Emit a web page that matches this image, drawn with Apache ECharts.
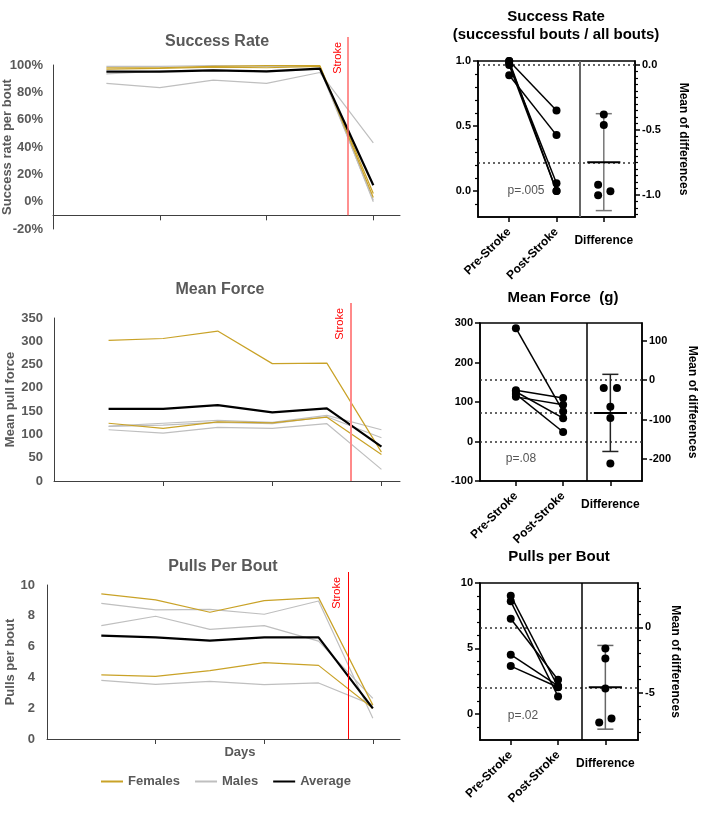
<!DOCTYPE html>
<html><head><meta charset="utf-8">
<script src="https://cdn.jsdelivr.net/npm/echarts@6/dist/echarts.min.js"></script>
<style>html,body{margin:0;padding:0;background:#fff}#c{width:701px;height:815px}</style>
</head><body><div id="c"></div>
<script>
// ---------- DATA ----------
const days = [1, 2, 3, 4, 5, 6];
// Success rate per bout (%)
const srFemaleA = [98, 98, 99, 99.5, 99.5, 6];
const srFemaleB = [97, 97.5, 98.5, 98, 99, 3];
const srMaleA = [86.6, 83.4, 89, 86.6, 94.5, 43];
const srMaleB = [99, 99, 99.5, 99, 99, 0];
const srMaleC = [93.5, 95.5, 96.5, 95, 97, 1];
const srAverage = [95.1, 95.1, 96.1, 95.4, 97.3, 12];
// Mean pull force
const mfFemaleA = [302, 306, 322, 252, 253, 62];
const mfFemaleB = [124, 113, 127, 125, 137, 57];
const mfMaleA = [118, 124, 130, 126, 141, 110];
const mfMaleB = [110, 103, 115, 113, 123, 25];
const mfMaleC = [117, 120, 126, 123, 138, 93];
const mfAverage = [155, 155, 163, 147.5, 156, 74];
// Pulls per bout
const ppFemaleA = [9.42, 9.03, 8.23, 8.98, 9.18, 2.2];
const ppFemaleB = [4.16, 4.07, 4.44, 4.96, 4.78, 2.0];
const ppMaleA = [8.81, 8.38, 8.42, 8.1, 8.96, 1.34];
const ppMaleB = [7.36, 7.97, 7.12, 7.36, 6.36, 2.64];
const ppMaleC = [3.81, 3.55, 3.74, 3.53, 3.64, 2.2];
const ppAverage = [6.71, 6.6, 6.39, 6.6, 6.6, 1.99];
// day (between day 5 and 6) where the stroke happened, per chart
const strokeDay = [5.53, 5.44, 5.54];

// Paired estimation plots
const pairCats = ['Pre-Stroke', 'Post-Stroke', 'Difference'];
const srPre = [1.0, 0.89, 0.98, 0.97, 1.0];
const srPost = [0.62, 0.43, 0.06, 0.0, 0.0];
const srDiffX = [3, 3, 2.88, 3.14, 2.88];
const mfPre = [287, 130, 113, 126, 120];
const mfPost = [76, 110, 93, 59, 24];
const mfDiffX = [3, 2.86, 3.14, 3, 3];
const ppPre = [9.03, 8.6, 7.27, 4.52, 3.65];
const ppPost = [2.05, 1.33, 2.6, 2.13, 2.03];
const ppDiffX = [3.13, 2.87, 3, 3, 3];
const pValues = ['p=.005', 'p=.08', 'p=.02'];

// ---------- BUILD ----------
const FONT = "'Liberation Sans', Arial, Helvetica, sans-serif";
const GOLD = '#C9A227';
const GRAY = '#BFBFBF';
const AX = '#595959';
const grids = [], xAxes = [], yAxes = [], series = [], graphics = [];

function addText(text, x, y, o) {
  graphics.push({type: 'text', x: x, y: y, silent: true, z: 100,
    style: Object.assign({text: text, align: 'center', verticalAlign: 'middle',
      fontFamily: FONT, fontSize: 12, fontWeight: 'normal', fill: '#000'}, o)});
}
const mean = a => a.reduce((s, v) => s + v, 0) / a.length;
function ci95(a) {
  const m = mean(a);
  const sd = Math.sqrt(a.reduce((s, v) => s + (v - m) * (v - m), 0) / (a.length - 1));
  return 2.776 * sd / Math.sqrt(a.length); // t(0.975, df=4)
}
function steps(a, b, st, skip) {
  const out = [];
  for (let k = Math.ceil(a / st - 1e-9); k * st <= b + 1e-9; k++) {
    const v = +(k * st).toFixed(6);
    if (!skip.some(s => Math.abs(s - v) < 1e-9)) out.push(v);
  }
  return out;
}

function leftChart(c) {
  const gi = grids.length;
  grids.push({left: c.left, top: c.top, width: c.width, height: c.height, outerBoundsMode: 'none'});
  const yi = yAxes.length;
  yAxes.push({gridIndex: gi, type: 'value', min: c.yMin, max: c.yMax, interval: c.yInterval,
    axisLine: {show: true, onZero: false, lineStyle: {color: '#404040', width: 1}},
    axisTick: {show: false}, splitLine: {show: false},
    axisLabel: {color: AX, fontFamily: FONT, fontWeight: 'bold', fontSize: 13, margin: c.labelMargin, formatter: c.fmt},
    name: c.yName, nameLocation: 'middle', nameGap: c.nameGap, nameMoveOverlap: false,
    nameTextStyle: {color: AX, fontFamily: FONT, fontWeight: 'bold', fontSize: 13}});
  let cross = null;
  if (c.xCrossAt != null) {
    cross = yAxes.length;
    yAxes.push({gridIndex: gi, type: 'value', show: false, min: c.yMin - c.xCrossAt, max: c.yMax - c.xCrossAt});
  }
  const xi = xAxes.length;
  const axisLine = {show: true, onZero: cross != null, lineStyle: {color: '#404040', width: 1}};
  if (cross != null) axisLine.onZeroAxisIndex = cross;
  xAxes.push({gridIndex: gi, type: 'value', min: 0, max: c.xMax, axisLine: axisLine,
    axisTick: {show: true, customValues: [2, 4, 6], length: 5, lineStyle: {color: '#404040'}},
    axisLabel: {show: false}, splitLine: {show: false}});
  c.lines.forEach(l => series.push({type: 'line', name: l.name, xAxisIndex: xi, yAxisIndex: yi,
    data: days.map((d, i) => [d, l.values[i]]), symbol: 'none', showSymbol: false,
    lineStyle: {color: l.color, width: l.width}, itemStyle: {color: l.color}, z: l.z,
    silent: true, animation: false}));
  // overlay for the stroke marker line (reaches above plot area)
  const crossVal = c.xCrossAt != null ? c.xCrossAt : c.yMin;
  const bottom = c.top + c.height * (c.yMax - crossVal) / (c.yMax - c.yMin);
  const hg = grids.length;
  grids.push({left: c.left, top: c.strokeTop, width: c.width, height: bottom - c.strokeTop, outerBoundsMode: 'none'});
  const hx = xAxes.length;
  xAxes.push({gridIndex: hg, type: 'value', min: 0, max: c.xMax, show: false});
  const hy = yAxes.length;
  yAxes.push({gridIndex: hg, type: 'value', min: 0, max: 1, show: false});
  series.push({type: 'line', xAxisIndex: hx, yAxisIndex: hy, data: [], silent: true, animation: false,
    markLine: {silent: true, animation: false, symbol: ['none', 'none'],
      lineStyle: {color: c.strokeColor, width: c.strokeWidth, type: 'solid'},
      label: {show: true, formatter: 'Stroke', position: 'insideEndTop', color: '#FF0000',
        fontFamily: FONT, fontSize: 11},
      emphasis: {disabled: true},
      data: [{xAxis: c.stroke}]}});
}

function rightPanel(c) {
  const gi = grids.length;
  grids.push({left: c.left, top: c.top, width: c.width, height: c.height, show: true,
    borderColor: '#000', borderWidth: 1.5, backgroundColor: 'rgba(0,0,0,0)', outerBoundsMode: 'none'});
  const lbl = {color: '#000', fontFamily: FONT, fontWeight: 'bold', fontSize: 11};
  const xi = xAxes.length;
  xAxes.push({gridIndex: gi, type: 'value', position: 'bottom', min: c.xMin, max: c.xMax,
    axisLine: {show: true, onZero: false, lineStyle: {color: '#000', width: 1.5}},
    axisTick: {show: true, customValues: [1, 2, 3], length: 5, lineStyle: {color: '#000', width: 1.5}},
    axisLabel: Object.assign({}, lbl, {fontSize: 12, customValues: [1, 2], rotate: 45, margin: 13,
      formatter: v => pairCats[Math.round(v) - 1]}),
    splitLine: {show: false}});
  xAxes.push({gridIndex: gi, type: 'value', position: 'bottom', min: c.xMin, max: c.xMax,
    axisLine: {show: false, onZero: false}, axisTick: {show: false},
    axisLabel: Object.assign({}, lbl, {fontSize: 12, customValues: [3], margin: 18, formatter: () => pairCats[2]}),
    splitLine: {show: false}});
  const diffs = c.post.map((v, i) => +(v - c.pre[i]).toFixed(6));
  const meanPre = mean(c.pre), md = mean(diffs), ci = ci95(diffs), meanPost = meanPre + md;
  const yl = yAxes.length;
  yAxes.push({gridIndex: gi, type: 'value', position: 'left', min: c.yMin, max: c.yMax,
    axisLine: {show: true, onZero: false, lineStyle: {color: '#000', width: 1.5}},
    axisTick: {show: true, customValues: c.leftMajor, length: 5, lineStyle: {color: '#000', width: 1.5}},
    axisLabel: Object.assign({}, lbl, {customValues: c.leftMajor, margin: 7, formatter: c.fmtL}),
    splitLine: {show: false}});
  if (c.leftMinor) yAxes.push({gridIndex: gi, type: 'value', position: 'left', min: c.yMin, max: c.yMax,
    axisLine: {show: false, onZero: false},
    axisTick: {show: true, customValues: c.leftMinor, length: 3, lineStyle: {color: '#000', width: 1.2}},
    axisLabel: {show: false}, splitLine: {show: false}});
  const rMin = c.yMin - meanPre, rMax = c.yMax - meanPre;
  const yr = yAxes.length;
  yAxes.push({gridIndex: gi, type: 'value', position: 'right', min: rMin, max: rMax,
    axisLine: {show: true, onZero: false, lineStyle: {color: '#000', width: 1.5}},
    axisTick: {show: true, customValues: c.rightMajor, length: 5, lineStyle: {color: '#000', width: 1.5}},
    axisLabel: Object.assign({}, lbl, {customValues: c.rightMajor, margin: 7, formatter: c.fmtR}),
    splitLine: {show: false},
    name: 'Mean of differences', nameLocation: 'middle', nameRotate: -90, nameGap: c.nameGap, nameMoveOverlap: false,
    nameTextStyle: {color: '#000', fontFamily: FONT, fontWeight: 'bold', fontSize: 12}});
  if (c.rightMinorStep) yAxes.push({gridIndex: gi, type: 'value', position: 'right', min: rMin, max: rMax,
    axisLine: {show: false, onZero: false},
    axisTick: {show: true, customValues: steps(rMin + 1e-6, rMax - 1e-6, c.rightMinorStep, c.rightMajor), length: 3, lineStyle: {color: '#000', width: 1.2}},
    axisLabel: {show: false}, splitLine: {show: false}});
  // reference lines
  const ml = [{yAxis: meanPre}, {yAxis: meanPost}];
  if (c.zeroLine) ml.push({yAxis: 0});
  ml.push({xAxis: 2.5, lineStyle: {type: 'solid', color: c.divColor, width: c.divWidth}});
  c.pre.forEach((p, i) => {
    const s = {type: 'line', xAxisIndex: xi, yAxisIndex: yl, data: [[1, p], [2, c.post[i]]],
      symbol: 'circle', symbolSize: 8, showSymbol: true, lineStyle: {color: '#000', width: 1.5},
      itemStyle: {color: '#000', opacity: 1}, z: 5, silent: true, animation: false};
    if (i === 0) s.markLine = {silent: true, animation: false, symbol: ['none', 'none'], label: {show: false},
      lineStyle: {type: [2, 3], color: '#333', width: 1.5}, emphasis: {disabled: true}, data: ml, z: 1};
    series.push(s);
  });
  series.push({type: 'scatter', xAxisIndex: xi, yAxisIndex: yr, data: diffs.map((d, i) => [c.diffX[i], d]),
    symbolSize: 8, itemStyle: {color: '#000', opacity: 1}, z: 6, silent: true, animation: false});
  const barColor = c.barColor;
  series.push({type: 'custom', xAxisIndex: xi, yAxisIndex: yr, data: [[3, md, md - ci, md + ci]],
    silent: true, animation: false, z: 4,
    renderItem: (params, api) => {
      const x = api.value(0), m = api.value(1), lo = api.value(2), hi = api.value(3);
      const t = api.coord([x, hi]), b = api.coord([x, lo]);
      const cl = api.coord([x - 0.17, hi])[0], cr = api.coord([x + 0.17, hi])[0];
      const ml0 = api.coord([x - 0.35, m]), mr0 = api.coord([x + 0.35, m]);
      const ls = {stroke: barColor, lineWidth: 1.5};
      return {type: 'group', children: [
        {type: 'line', shape: {x1: t[0], y1: t[1], x2: b[0], y2: b[1]}, style: ls},
        {type: 'line', shape: {x1: cl, y1: t[1], x2: cr, y2: t[1]}, style: ls},
        {type: 'line', shape: {x1: cl, y1: b[1], x2: cr, y2: b[1]}, style: ls},
        {type: 'line', shape: {x1: ml0[0], y1: ml0[1], x2: mr0[0], y2: mr0[1]}, style: {stroke: '#000', lineWidth: 2}}
      ]};
    }});
}

function lines(fA, fB, mA, mB, mC, avg) {
  return [
    {name: 'Males', values: mA, color: GRAY, width: 1.2, z: 2},
    {name: 'Males', values: mB, color: GRAY, width: 1.2, z: 2},
    {name: 'Males', values: mC, color: GRAY, width: 1.2, z: 2},
    {name: 'Females', values: fA, color: GOLD, width: 1.2, z: 3},
    {name: 'Females', values: fB, color: GOLD, width: 1.2, z: 3},
    {name: 'Average', values: avg, color: '#000', width: 2.2, z: 4}
  ];
}

leftChart({left: 53, top: 65, width: 347, height: 164, yMin: -20, yMax: 100, yInterval: 20, xMax: 6.5,
  xCrossAt: -10, labelMargin: 10, nameGap: 39, fmt: v => v + '%', yName: 'Success rate per bout',
  stroke: strokeDay[0], strokeTop: 37, strokeColor: '#FF6B6B', strokeWidth: 1.5,
  lines: lines(srFemaleA, srFemaleB, srMaleA, srMaleB, srMaleC, srAverage)});
leftChart({left: 54, top: 318, width: 346, height: 163, yMin: 0, yMax: 350, yInterval: 50, xMax: 6.34,
  labelMargin: 11, nameGap: 37, fmt: v => String(v), yName: 'Mean pull force',
  stroke: strokeDay[1], strokeTop: 303, strokeColor: '#FF8A8A', strokeWidth: 2,
  lines: lines(mfFemaleA, mfFemaleB, mfMaleA, mfMaleB, mfMaleC, mfAverage)});
leftChart({left: 47, top: 585, width: 353, height: 154, yMin: 0, yMax: 10, yInterval: 2, xMax: 6.5,
  labelMargin: 12, nameGap: 30, fmt: v => String(v), yName: 'Pulls per bout',
  stroke: strokeDay[2], strokeTop: 572, strokeColor: '#FF0000', strokeWidth: 1,
  lines: lines(ppFemaleA, ppFemaleB, ppMaleA, ppMaleB, ppMaleC, ppAverage)});

rightPanel({left: 478, top: 61, width: 157, height: 156, xMin: 0.34, xMax: 3.66, yMin: -0.2, yMax: 1.0,
  pre: srPre, post: srPost, diffX: srDiffX, leftMajor: [0, 0.5, 1], leftMinor: steps(-0.1, 0.9, 0.1, [0, 0.5, 1]),
  rightMajor: [0, -0.5, -1], rightMinorStep: 0.05, fmtL: v => v.toFixed(1), fmtR: v => v.toFixed(1),
  nameGap: 42, divColor: '#666', divWidth: 2, barColor: '#777'});
rightPanel({left: 480, top: 323, width: 162, height: 158, xMin: 0.24, xMax: 3.67, yMin: -100, yMax: 300,
  pre: mfPre, post: mfPost, diffX: mfDiffX, leftMajor: [-100, 0, 100, 200, 300], leftMinor: null,
  rightMajor: [100, 0, -100, -200], rightMinorStep: null, fmtL: v => String(v), fmtR: v => String(v),
  nameGap: 44, divColor: '#000', divWidth: 1.5, barColor: '#222', zeroLine: true});
rightPanel({left: 480, top: 583, width: 158, height: 157, xMin: 0.35, xMax: 3.69, yMin: -2, yMax: 10,
  pre: ppPre, post: ppPost, diffX: ppDiffX, leftMajor: [0, 5, 10], leftMinor: steps(-1, 9, 1, [0, 5, 10]),
  rightMajor: [0, -5], rightMinorStep: 1, fmtL: v => String(v), fmtR: v => String(v),
  nameGap: 31, divColor: '#000', divWidth: 1.5, barColor: '#666'});

// titles & annotations
const tL = {fontWeight: 'bold', fontSize: 16, fill: AX};
addText('Success Rate', 217, 42, tL);
addText('Mean Force', 220, 290, tL);
addText('Pulls Per Bout', 223, 567, tL);
const tR = {fontWeight: 'bold', fontSize: 15, fill: '#000'};
addText('Success Rate', 556, 17, tR);
addText('(successful bouts / all bouts)', 556, 35, tR);
addText('Mean Force  (g)', 563, 298, tR);
addText('Pulls per Bout', 559, 557, tR);
const tP = {fontSize: 12, fill: '#555'};
addText(pValues[0], 526, 191, tP);
addText(pValues[1], 521, 459, tP);
addText(pValues[2], 523, 716, tP);
addText('Days', 240, 752, {fontWeight: 'bold', fontSize: 13, fill: AX});

const chart = echarts.init(document.getElementById('c'), null, {renderer: 'canvas'});
chart.setOption({
  animation: false,
  backgroundColor: '#fff',
  grid: grids, xAxis: xAxes, yAxis: yAxes, series: series, graphic: graphics,
  legend: {data: ['Females', 'Males', 'Average'], left: 95, top: 770, itemWidth: 22, itemHeight: 12,
    itemGap: 14, selectedMode: false, itemStyle: {opacity: 0},
    textStyle: {color: AX, fontFamily: FONT, fontWeight: 'bold', fontSize: 13}}
});
</script></body></html>
